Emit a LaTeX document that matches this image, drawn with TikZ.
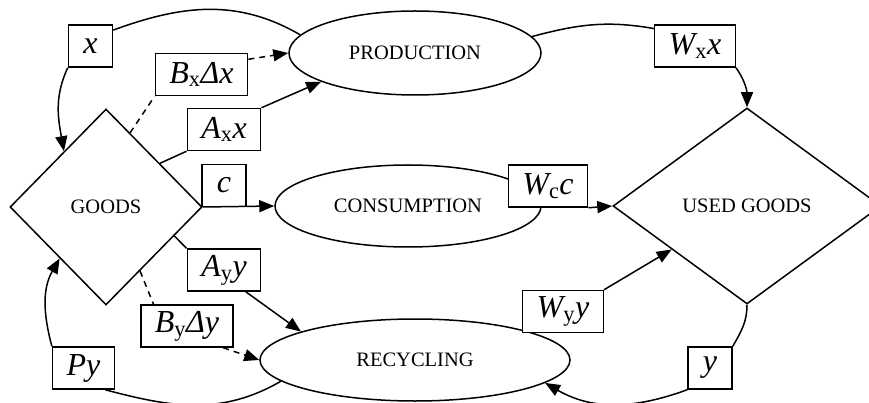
\documentclass[tikz,border=0pt]{standalone}
\usepackage{fontspec}
\setmainfont{Liberation Serif}
\usepackage{tikz}
\usetikzlibrary{shapes, arrows.meta}
\newcommand{\lsub}[1]{\textsubscript{\upshape #1}}

\begin{document}
\begin{tikzpicture}[x=1pt, y=1pt, line width=1.5pt,
  >={Triangle[length=15pt,width=12pt]},
  stock/.style={draw, diamond, inner sep=0, font=\fontsize{20.5}{24}\selectfont},
  proc/.style={draw, ellipse, inner sep=0, font=\fontsize{20.5}{24}\selectfont},
  flow/.style={draw, fill=white, minimum height=42pt, minimum width=44pt,
    inner xsep=14pt, inner ysep=0pt, font=\fontsize{32}{38}\selectfont\itshape}]
  \clip (0,0) rectangle (869,-403);

  \node [stock, minimum width=192, minimum height=196] (goods) at (106,-207) {GOODS};
  \node [stock, minimum width=268, minimum height=196] (used) at (747,-206) {USED GOODS};

  \node [proc, minimum width=252, minimum height=84] (prod) at (415,-53) {PRODUCTION};
  \node [proc, minimum width=266, minimum height=82] (cons) at (408,-206) {CONSUMPTION};
  \node [proc, minimum width=310, minimum height=82] (recy) at (415,-360) {RECYCLING};

  \node [flow] (x) at (90.5,-46) {x};
  \node [flow] (bx) at (201.5,-74.5) {B\lsub{x}Δx};
  \node [flow] (ax) at (224,-129.5) {A\lsub{x}x};
  \node [flow] (c) at (224,-185.5) {c};
  \node [flow] (wc) at (548,-186) {W\lsub{c}c};
  \node [flow] (wx) at (695,-46) {W\lsub{x}x};
  \node [flow] (ay) at (224,-270) {A\lsub{y}y};
  \node [flow] (by) at (187,-326) {B\lsub{y}Δy};
  \node [flow] (py) at (83.5,-368) {Py};
  \node [flow] (wy) at (563,-311.5) {W\lsub{y}y};
  \node [flow] (y) at (710,-368) {y};

  % production
  \draw (x.35) to[out=20, in=150] (prod.171);
  \draw [->] (x.south west) to[out=245, in=100] (goods.127);
  \draw [dash pattern=on 6pt off 5pt] (goods.72) -- (bx.south west);
  \draw [->, dash pattern=on 6pt off 5pt] (bx.18) -- (prod.west);
  \draw (goods.39) -- (ax.south west);
  \draw [->] (ax.north east) -- (prod.197);
  \draw (prod.8) to[out=15, in=170] (wx.157);
  \draw [->] (wx.south east) to[out=-55, in=90] (used.north);

  % consumption
  \draw [->] (goods.east) -- (cons.west);
  \draw [->] (wc.south east) -- (used.west);

  % recycling
  \draw (goods.-23) -- (ay.north west);
  \draw [->] (ay.-45) -- (recy.166);
  \draw [dash pattern=on 6pt off 5pt] (goods.-62) -- (by.147);
  \draw [->, dash pattern=on 6pt off 5pt] (by.-31) -- (recy.west);
  \draw [->] (wy.north east) -- (used.210);
  \draw (used.south) to[out=-90, in=60] (y.north east);
  \draw [->] (y.south west) to[out=200, in=-30] (recy.-10);
  \draw (recy.189) to[out=210, in=-15] (py.-45);
  \draw [->] (py.north west) to[out=105, in=240] (goods.228);
\end{tikzpicture}
\end{document}
